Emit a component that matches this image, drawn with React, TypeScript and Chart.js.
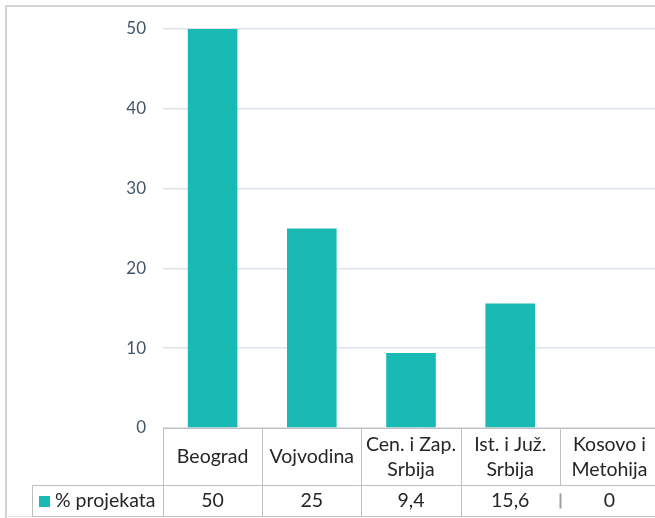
import React, { useEffect, useRef } from "react";
import { Chart, registerables } from "chart.js";

Chart.register(...registerables);

const categories: string[][] = [
  ["Beograd"],
  ["Vojvodina"],
  ["Cen. i Zap.", "Srbija"],
  ["Ist. i Juž.", "Srbija"],
  ["Kosovo i", "Metohija"],
];
const seriesName = "% projekata";
const values = [50, 25, 9.4, 15.6, 0];
const valueLabels = ["50", "25", "9,4", "15,6", "0"];
const yMin = 0;
const yMax = 50;
const yStep = 10;

const BAR = "#19BAB3";
const FONT = "Lato, 'Open Sans', sans-serif";

const tablePlugin = {
  id: "dataTable",
  beforeDraw(chart: any) {
    const { ctx } = chart;
    ctx.save();
    ctx.strokeStyle = "#D4D4D4";
    ctx.lineWidth = 2;
    ctx.beginPath();
    ctx.moveTo(6, 518);
    ctx.lineTo(6, 6);
    ctx.lineTo(chart.width, 6);
    ctx.stroke();
    ctx.lineWidth = 1;
    ctx.strokeStyle = "#E2E2E2";
    ctx.beginPath();
    ctx.moveTo(6, 516.5);
    ctx.lineTo(chart.width, 516.5);
    ctx.stroke();
    ctx.restore();
  },
  afterDraw(chart: any) {
    const { ctx, chartArea } = chart;
    const x = chart.scales.x;
    const n = categories.length;
    const colW = (chartArea.right - chartArea.left) / n;
    const top = Math.round(chartArea.bottom) + 0.5;
    const mid = top + 57;
    const bot = mid + 31;
    const legendLeft = 32.5;
    ctx.save();
    ctx.strokeStyle = "#BFBFBF";
    ctx.lineWidth = 1;
    ctx.beginPath();
    ctx.moveTo(chartArea.left, top);
    ctx.lineTo(chart.width, top);
    ctx.moveTo(legendLeft, mid);
    ctx.lineTo(chart.width, mid);
    ctx.moveTo(legendLeft, bot);
    ctx.lineTo(chart.width, bot);
    ctx.moveTo(legendLeft, mid);
    ctx.lineTo(legendLeft, bot);
    for (let i = 0; i <= n; i++) {
      const cx = Math.round(x.getPixelForValue(i) - colW / 2) + 0.5;
      ctx.moveTo(cx, top);
      ctx.lineTo(cx, mid);
      if (i !== 4) {
        ctx.moveTo(cx, mid);
        ctx.lineTo(cx, bot);
      }
    }
    ctx.stroke();
    // small darker segment
    const cx4 = Math.round(x.getPixelForValue(4) - colW / 2) + 0.5;
    ctx.strokeStyle = "#9E9E9E";
    ctx.lineWidth = 2;
    ctx.beginPath();
    ctx.moveTo(cx4, mid + 8);
    ctx.lineTo(cx4, mid + 23);
    ctx.stroke();

    ctx.fillStyle = "#262626";
    ctx.font = `19.5px ${FONT}`;
    ctx.textAlign = "center";
    ctx.textBaseline = "middle";
    const rowMid = (top + mid) / 2;
    const lh = 25;
    categories.forEach((lines, i) => {
      const cx = x.getPixelForValue(i);
      const start = rowMid - ((lines.length - 1) * lh) / 2;
      lines.forEach((ln, j) => ctx.fillText(ln, cx, start + j * lh));
    });
    const valMid = (mid + bot) / 2;
    valueLabels.forEach((v, i) => {
      ctx.fillText(v, x.getPixelForValue(i), valMid);
    });
    // legend
    ctx.fillStyle = BAR;
    ctx.fillRect(39, Math.round(valMid) - 5, 11, 11);
    ctx.fillStyle = "#262626";
    ctx.textAlign = "left";
    ctx.fillText(seriesName, 55, valMid);
    ctx.restore();
  },
};

export default function App() {
  const ref = useRef<HTMLCanvasElement>(null);
  useEffect(() => {
    if (!ref.current) return;
    const chart = new Chart(ref.current, {
      type: "bar",
      data: {
        labels: categories.map((c) => c.join(" ")),
        datasets: [
          {
            label: seriesName,
            data: values,
            backgroundColor: BAR,
            borderWidth: 0,
            barPercentage: 0.5,
            categoryPercentage: 1,
          },
        ],
      },
      options: {
        animation: false,
        responsive: false,
        devicePixelRatio: 1,
        layout: { padding: { left: 0, top: 29, right: 21, bottom: 90 } },
        plugins: { legend: { display: false }, tooltip: { enabled: false } },
        scales: {
          x: { display: false },
          y: {
            min: yMin,
            max: yMax,
            afterFit: (s: any) => {
              s.width = 163;
            },
            border: { display: false },
            grid: { color: "#DCE3EA", lineWidth: 1.5, drawTicks: false },
            ticks: {
              stepSize: yStep,
              padding: 17,
              color: "#44546A",
              font: { family: FONT, size: 17 },
            },
          },
        },
      },
      plugins: [tablePlugin],
    });
    return () => chart.destroy();
  }, []);
  return (
    <div
      style={{
        position: "absolute",
        left: 0,
        top: 0,
        width: 655,
        height: 518,
        overflow: "hidden",
        background: "#fff",
      }}
    >
      <canvas ref={ref} width={680} height={518} style={{ width: 680, height: 518, display: "block" }} />
    </div>
  );
}
